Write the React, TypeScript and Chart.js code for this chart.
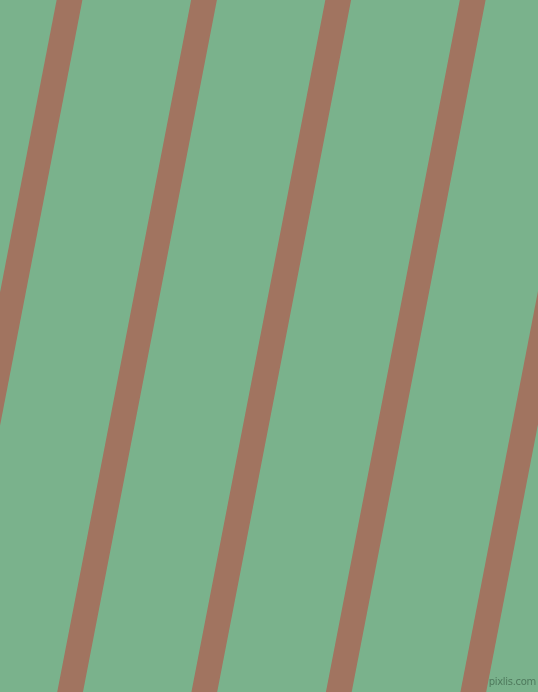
import { useEffect, useRef } from 'react';
import { Chart, registerables } from 'chart.js';

Chart.register(...registerables);

// centre of each stripe where it crosses the top edge (y = 0) and bottom edge (y = 692)
const stripeTopX = [69.5, 204.0, 338.2, 472.7, 607.2];
const stripeBottomX = [-64.4, 70.1, 204.3, 338.8, 473.3];

const WIDTH = 538;
const HEIGHT = 692;
const GREEN = '#7ab28c';
const BROWN = '#a17460';

const App = () => {
  const canvas = useRef<HTMLCanvasElement | null>(null);
  const chartRef = useRef<Chart | null>(null);

  useEffect(() => {
    const node = canvas.current;
    if (!node) {
      return;
    }

    if (chartRef.current) {
      chartRef.current.destroy();
    }

    const datasets = stripeTopX.map((top, i) => ({
      label: `stripe ${i + 1}`,
      data: [
        { x: top, y: 0 },
        { x: stripeBottomX[i], y: HEIGHT }
      ],
      showLine: true,
      borderColor: BROWN,
      borderWidth: 25.3,
      borderCapStyle: 'square' as const,
      pointRadius: 0,
      pointHoverRadius: 0,
      fill: false,
      clip: false as const
    }));

    chartRef.current = new Chart(node, {
      type: 'scatter',
      data: { datasets },
      options: {
        animation: false,
        responsive: false,
        events: [],
        layout: { padding: 0 },
        scales: {
          x: { type: 'linear', min: 0, max: WIDTH, display: false },
          y: { type: 'linear', min: 0, max: HEIGHT, reverse: true, display: false }
        },
        plugins: {
          legend: { display: false },
          tooltip: { enabled: false }
        }
      }
    });

    return () => {
      chartRef.current?.destroy();
      chartRef.current = null;
    };
  }, []);

  return (
    <div style={{ position: 'fixed', left: 0, top: 0, width: WIDTH, height: HEIGHT, overflow: 'hidden' }}>
      <canvas
        ref={canvas}
        width={WIDTH}
        height={HEIGHT}
        style={{ display: 'block', width: WIDTH, height: HEIGHT, background: GREEN }}
        role="img"
        aria-label="Diagonal stripes"
      />
      <span
        style={{
          position: 'absolute',
          right: 2,
          bottom: 5,
          fontFamily: '"DejaVu Sans", sans-serif',
          fontSize: 10,
          lineHeight: '10px',
          letterSpacing: -0.3,
          color: '#4f7a5d'
        }}
      >
        pixlis.com
      </span>
    </div>
  );
};

export default App;
